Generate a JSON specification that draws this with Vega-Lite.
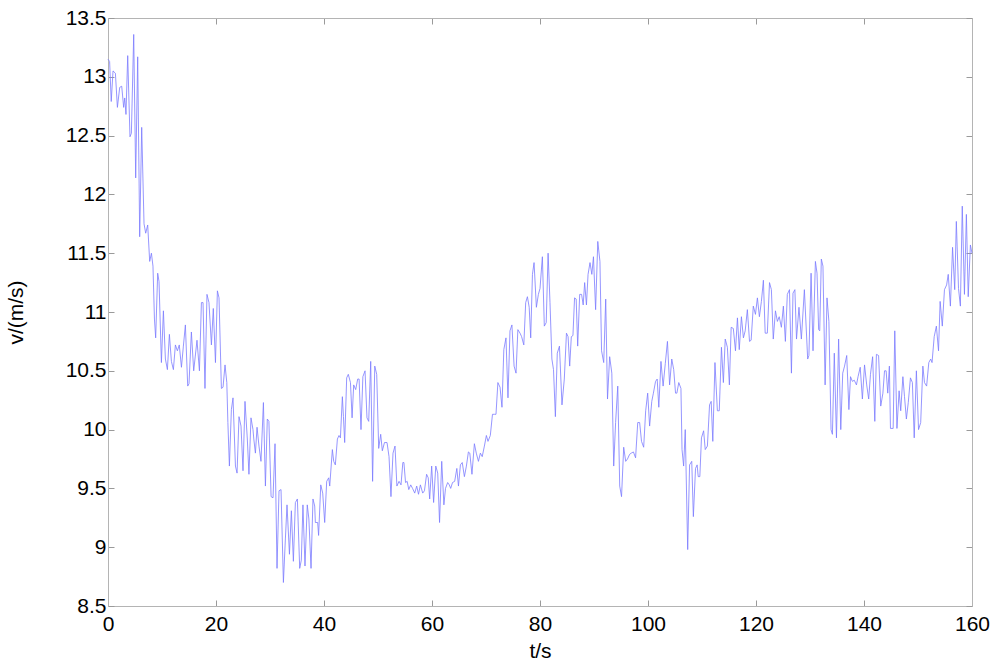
{
  "$schema": "https://vega.github.io/schema/vega-lite/v6.json",
  "width": 864,
  "height": 588,
  "autosize": {"type": "none"},
  "padding": {"left": 108, "top": 18, "right": 28, "bottom": 62},
  "background": "white",
  "config": {
    "view": {"stroke": null},
    "font": "Liberation Sans",
    "axis": {
      "grid": false,
      "domainColor": "#b4b4b4",
      "tickColor": "#9a9a9a",
      "tickSize": -6,
      "labelFont": "Liberation Sans",
      "labelFontSize": 21,
      "labelColor": "black",
      "titleFont": "Liberation Sans",
      "titleFontSize": 21,
      "titleFontWeight": "normal",
      "titleColor": "black"
    }
  },
  "data": {"values": [
    {"t":0,"v":13.15},{"t":0.3,"v":13.13},{"t":0.6,"v":12.79},{"t":0.93,"v":13.05},{"t":1.37,"v":13.03},{"t":1.74,"v":12.74},{"t":2.17,"v":12.91},{"t":2.54,"v":12.92},{"t":2.9,"v":12.74},{"t":3.1,"v":12.82},{"t":3.33,"v":12.68},{"t":3.65,"v":13.18},{"t":4.07,"v":12.49},{"t":4.33,"v":12.52},{"t":4.76,"v":13.36},{"t":5.13,"v":12.14},{"t":5.5,"v":13.17},{"t":5.87,"v":11.64},{"t":6.24,"v":12.57},{"t":6.67,"v":11.75},{"t":6.98,"v":11.67},{"t":7.35,"v":11.74},{"t":7.72,"v":11.43},{"t":8.04,"v":11.5},{"t":8.33,"v":11.39},{"t":8.6,"v":10.94},{"t":8.83,"v":10.78},{"t":9.2,"v":11.33},{"t":9.45,"v":11.26},{"t":9.89,"v":10.57},
    {"t":10.26,"v":11.01},{"t":10.63,"v":10.6},{"t":11.0,"v":10.51},{"t":11.37,"v":10.81},{"t":11.74,"v":10.58},{"t":12.11,"v":10.51},{"t":12.48,"v":10.72},{"t":12.85,"v":10.67},{"t":13.2,"v":10.72},{"t":13.6,"v":10.53},{"t":13.96,"v":10.71},{"t":14.33,"v":10.89},{"t":14.76,"v":10.37},{"t":15.0,"v":10.39},{"t":15.44,"v":10.83},{"t":15.87,"v":10.5},{"t":16.48,"v":10.76},{"t":16.93,"v":10.5},{"t":17.3,"v":11.08},{"t":17.6,"v":11.08},{"t":17.96,"v":10.35},{"t":18.33,"v":11.15},{"t":18.7,"v":11.08},{"t":19.15,"v":10.72},{"t":19.5,"v":11.03},{"t":19.9,"v":10.57},{"t":20.26,"v":11.18},{"t":20.56,"v":11.12},{"t":21.0,"v":10.35},{"t":21.3,"v":10.36},{"t":21.67,"v":10.55},{"t":22.0,"v":10.4},{"t":22.2,"v":10.06},{"t":22.48,"v":9.69},{"t":22.85,"v":10.17},{"t":23.15,"v":10.27},{"t":23.6,"v":9.69},{"t":23.9,"v":9.63},{"t":24.26,"v":10.11},{"t":24.63,"v":10.03},{"t":25.0,"v":9.65},{"t":25.37,"v":10.24},{"t":25.8,"v":9.92},{"t":26.1,"v":9.62},{"t":26.48,"v":10.1},{"t":26.85,"v":10.0},{"t":27.0,"v":9.92},{"t":27.3,"v":9.8},{"t":27.6,"v":10.02},{"t":27.96,"v":9.86},{"t":28.33,"v":9.73},{"t":28.78,"v":10.23},{"t":29.15,"v":9.52},{"t":29.5,"v":10.09},{"t":29.8,"v":10.07},
    {"t":30.2,"v":9.43},{"t":30.56,"v":9.42},{"t":30.93,"v":9.88},{"t":31.3,"v":8.82},{"t":31.67,"v":9.48},{"t":32.04,"v":9.49},{"t":32.48,"v":8.7},{"t":32.85,"v":9.07},{"t":33.15,"v":9.36},{"t":33.6,"v":8.94},{"t":33.96,"v":9.31},{"t":34.33,"v":8.88},{"t":34.7,"v":9.38},{"t":35.07,"v":9.41},{"t":35.5,"v":8.82},{"t":35.8,"v":8.89},{"t":36.1,"v":9.36},{"t":36.48,"v":8.84},{"t":36.9,"v":9.36},{"t":37.2,"v":9.24},{"t":37.6,"v":8.82},{"t":37.96,"v":9.41},{"t":38.28,"v":9.35},{"t":38.4,"v":9.21},{"t":38.83,"v":9.21},{"t":39.0,"v":9.1},{"t":39.4,"v":9.53},{"t":39.76,"v":9.46},{"t":40.13,"v":9.21},{"t":40.5,"v":9.56},{"t":40.87,"v":9.59},{"t":41.06,"v":9.52},{"t":41.55,"v":9.83},{"t":41.8,"v":9.73},{"t":42.1,"v":9.7},{"t":42.48,"v":9.92},{"t":42.78,"v":9.95},{"t":43.04,"v":9.93},{"t":43.4,"v":10.28},{"t":43.6,"v":10.11},{"t":43.83,"v":9.89},{"t":44.2,"v":10.44},{"t":44.5,"v":10.47},{"t":44.9,"v":10.4},{"t":45.2,"v":10.1},{"t":45.5,"v":10.38},{"t":45.87,"v":10.34},{"t":46.24,"v":10.43},{"t":46.5,"v":10.43},{"t":46.85,"v":10.0},{"t":47.2,"v":10.45},{"t":47.6,"v":10.5},{"t":47.96,"v":10.1},{"t":48.28,"v":10.07},{"t":48.65,"v":10.58},{"t":49.0,"v":9.56},{"t":49.4,"v":10.54},{"t":49.76,"v":10.47},
    {"t":50.13,"v":9.84},{"t":50.5,"v":9.96},{"t":50.8,"v":9.82},{"t":51.2,"v":9.89},{"t":51.67,"v":9.89},{"t":52.04,"v":9.77},{"t":52.4,"v":9.43},{"t":52.78,"v":9.8},{"t":53.15,"v":9.86},{"t":53.5,"v":9.52},{"t":53.9,"v":9.56},{"t":54.26,"v":9.53},{"t":54.6,"v":9.72},{"t":54.8,"v":9.72},{"t":55.1,"v":9.55},{"t":55.4,"v":9.56},{"t":55.7,"v":9.49},{"t":56.06,"v":9.53},{"t":56.4,"v":9.5},{"t":56.8,"v":9.46},{"t":57.17,"v":9.52},{"t":57.5,"v":9.45},{"t":57.85,"v":9.53},{"t":58.28,"v":9.46},{"t":58.6,"v":9.48},{"t":59.0,"v":9.62},{"t":59.3,"v":9.59},{"t":59.57,"v":9.41},{"t":59.94,"v":9.69},{"t":60.3,"v":9.38},{"t":60.7,"v":9.69},{"t":61.06,"v":9.63},{"t":61.4,"v":9.21},{"t":61.8,"v":9.73},{"t":62.2,"v":9.36},{"t":62.5,"v":9.5},{"t":62.9,"v":9.55},{"t":63.2,"v":9.53},{"t":63.46,"v":9.5},{"t":63.8,"v":9.55},{"t":64.2,"v":9.56},{"t":64.6,"v":9.67},{"t":64.9,"v":9.52},{"t":65.26,"v":9.7},{"t":65.6,"v":9.72},{"t":66.0,"v":9.6},{"t":66.37,"v":9.69},{"t":66.74,"v":9.81},{"t":67.0,"v":9.8},{"t":67.4,"v":9.62},{"t":67.85,"v":9.88},{"t":68.2,"v":9.8},{"t":68.6,"v":9.73},{"t":68.96,"v":9.8},{"t":69.3,"v":9.77},{"t":69.7,"v":9.86},
    {"t":70.07,"v":9.95},{"t":70.37,"v":9.9},{"t":70.8,"v":9.95},{"t":71.2,"v":10.13},{"t":71.6,"v":10.13},{"t":71.85,"v":10.13},{"t":72.2,"v":10.4},{"t":72.6,"v":10.36},{"t":72.96,"v":10.19},{"t":73.3,"v":10.68},{"t":73.7,"v":10.78},{"t":74.07,"v":10.27},{"t":74.44,"v":10.84},{"t":74.8,"v":10.89},{"t":75.2,"v":10.54},{"t":75.56,"v":10.48},{"t":75.9,"v":10.85},{"t":76.3,"v":10.82},{"t":76.6,"v":10.79},{"t":77.0,"v":10.72},{"t":77.35,"v":11.08},{"t":77.67,"v":11.13},{"t":78.0,"v":11.04},{"t":78.28,"v":10.78},{"t":78.6,"v":11.32},{"t":78.9,"v":11.42},{"t":79.33,"v":11.04},{"t":79.7,"v":11.15},{"t":80.0,"v":11.2},{"t":80.44,"v":11.47},{"t":80.8,"v":10.88},{"t":81.15,"v":10.91},{"t":81.5,"v":11.5},{"t":81.85,"v":11.08},{"t":82.2,"v":10.6},{"t":82.5,"v":10.51},{"t":82.85,"v":10.11},{"t":83.2,"v":10.65},{"t":83.6,"v":10.71},{"t":84.07,"v":10.21},{"t":84.5,"v":10.43},{"t":84.9,"v":10.82},{"t":85.2,"v":10.79},{"t":85.5,"v":10.54},{"t":85.8,"v":10.79},{"t":86.1,"v":10.8},{"t":86.4,"v":11.12},{"t":86.7,"v":11.11},{"t":86.98,"v":10.71},{"t":87.35,"v":11.15},{"t":87.7,"v":11.15},{"t":88.0,"v":11.06},{"t":88.27,"v":11.25},{"t":88.6,"v":11.06},{"t":88.9,"v":11.32},{"t":89.26,"v":11.42},{"t":89.6,"v":11.32},{"t":89.9,"v":11.47},
    {"t":90.3,"v":11.02},{"t":90.7,"v":11.6},{"t":91.1,"v":11.43},{"t":91.4,"v":10.67},{"t":91.8,"v":10.57},{"t":92.17,"v":11.11},{"t":92.5,"v":10.26},{"t":92.9,"v":10.62},{"t":93.3,"v":10.48},{"t":93.65,"v":9.69},{"t":94.0,"v":10.06},{"t":94.4,"v":10.37},{"t":94.76,"v":9.52},{"t":95.1,"v":9.43},{"t":95.5,"v":9.85},{"t":95.87,"v":9.73},{"t":96.2,"v":9.75},{"t":96.6,"v":9.79},{"t":96.9,"v":9.8},{"t":97.3,"v":9.81},{"t":97.7,"v":9.76},{"t":98.1,"v":10.06},{"t":98.45,"v":10.06},{"t":98.8,"v":9.9},{"t":99.2,"v":9.85},{"t":99.57,"v":10.16},{"t":99.94,"v":10.31},{"t":100.3,"v":10.03},{"t":100.7,"v":10.24},{"t":101.0,"v":10.31},{"t":101.4,"v":10.41},{"t":101.7,"v":10.43},{"t":102.0,"v":10.19},{"t":102.4,"v":10.58},{"t":102.8,"v":10.37},{"t":103.2,"v":10.56},{"t":103.6,"v":10.75},{"t":104.0,"v":10.38},{"t":104.4,"v":10.6},{"t":104.76,"v":10.51},{"t":105.1,"v":10.31},{"t":105.35,"v":10.31},{"t":105.7,"v":10.4},{"t":106.1,"v":10.35},{"t":106.3,"v":9.83},{"t":106.6,"v":9.69},{"t":106.9,"v":10.0},{"t":107.35,"v":8.98},{"t":107.7,"v":9.7},{"t":108.1,"v":9.73},{"t":108.4,"v":9.26},{"t":108.8,"v":9.67},{"t":109.1,"v":9.7},{"t":109.3,"v":9.6},{"t":109.6,"v":9.6},{"t":109.9,"v":9.93},
    {"t":110.3,"v":9.99},{"t":110.6,"v":9.83},{"t":111.0,"v":9.86},{"t":111.4,"v":10.21},{"t":111.7,"v":10.24},{"t":112.0,"v":9.9},{"t":112.4,"v":10.57},{"t":112.85,"v":10.16},{"t":113.2,"v":10.16},{"t":113.6,"v":10.7},{"t":113.96,"v":10.4},{"t":114.3,"v":10.77},{"t":114.7,"v":10.7},{"t":115.07,"v":10.38},{"t":115.4,"v":10.87},{"t":115.8,"v":10.86},{"t":116.2,"v":10.67},{"t":116.56,"v":10.95},{"t":116.9,"v":10.68},{"t":117.3,"v":10.96},{"t":117.67,"v":10.78},{"t":118.0,"v":10.84},{"t":118.4,"v":11.02},{"t":118.8,"v":10.75},{"t":119.1,"v":10.76},{"t":119.5,"v":11.05},{"t":119.9,"v":10.98},{"t":120.26,"v":11.12},{"t":120.63,"v":10.96},{"t":121.0,"v":11.09},{"t":121.37,"v":11.27},{"t":121.7,"v":10.82},{"t":122.1,"v":10.82},{"t":122.5,"v":11.25},{"t":122.85,"v":11.19},{"t":123.2,"v":10.77},{"t":123.6,"v":11.01},{"t":123.96,"v":10.92},{"t":124.3,"v":10.96},{"t":124.7,"v":10.87},{"t":125.07,"v":11.05},{"t":125.44,"v":10.75},{"t":125.8,"v":11.15},{"t":126.2,"v":11.19},{"t":126.56,"v":10.48},{"t":126.85,"v":11.16},{"t":127.2,"v":11.19},{"t":127.5,"v":10.77},{"t":127.96,"v":11.04},{"t":128.4,"v":10.77},{"t":128.96,"v":11.19},{"t":129.57,"v":10.6},{"t":129.8,"v":10.63},
    {"t":130.2,"v":11.33},{"t":130.56,"v":10.67},{"t":131.0,"v":11.43},{"t":131.3,"v":11.33},{"t":131.6,"v":10.85},{"t":131.8,"v":10.84},{"t":132.1,"v":11.45},{"t":132.4,"v":11.39},{"t":132.8,"v":10.38},{"t":133.15,"v":11.12},{"t":133.5,"v":10.92},{"t":133.9,"v":10.0},{"t":134.15,"v":9.96},{"t":134.5,"v":10.65},{"t":134.9,"v":9.93},{"t":135.3,"v":10.77},{"t":135.7,"v":10.0},{"t":136.06,"v":10.48},{"t":136.4,"v":10.54},{"t":136.8,"v":10.63},{"t":137.2,"v":10.17},{"t":137.5,"v":10.45},{"t":137.85,"v":10.41},{"t":138.2,"v":10.42},{"t":138.6,"v":10.38},{"t":138.9,"v":10.45},{"t":139.3,"v":10.53},{"t":139.7,"v":10.26},{"t":140.1,"v":10.55},{"t":140.5,"v":10.38},{"t":140.87,"v":10.26},{"t":141.2,"v":10.47},{"t":141.6,"v":10.62},{"t":142.0,"v":10.07},{"t":142.3,"v":10.64},{"t":142.7,"v":10.63},{"t":143.1,"v":10.2},{"t":143.5,"v":10.31},{"t":143.8,"v":10.5},{"t":144.1,"v":10.5},{"t":144.4,"v":10.31},{"t":144.7,"v":10.54},{"t":144.9,"v":10.01},{"t":145.4,"v":10.01},{"t":145.7,"v":10.84},{"t":146.1,"v":10.01},{"t":146.5,"v":10.33},{"t":146.8,"v":10.16},{"t":147.2,"v":10.45},{"t":147.5,"v":10.28},{"t":147.85,"v":10.09},{"t":148.2,"v":10.23},{"t":148.6,"v":10.44},{"t":148.96,"v":10.4},{"t":149.3,"v":9.93},{"t":149.7,"v":10.5},
    {"t":150.1,"v":10.0},{"t":150.5,"v":10.06},{"t":150.9,"v":10.54},{"t":151.2,"v":10.4},{"t":151.6,"v":10.37},{"t":152.0,"v":10.57},{"t":152.35,"v":10.6},{"t":152.6,"v":10.57},{"t":153.0,"v":10.79},{"t":153.4,"v":10.88},{"t":153.8,"v":10.67},{"t":154.1,"v":11.09},{"t":154.5,"v":10.88},{"t":154.9,"v":11.19},{"t":155.3,"v":11.23},{"t":155.6,"v":11.32},{"t":156.0,"v":11.05},{"t":156.4,"v":11.55},{"t":156.8,"v":11.19},{"t":157.1,"v":11.77},{"t":157.5,"v":11.2},{"t":157.85,"v":11.05},{"t":158.2,"v":11.9},{"t":158.6,"v":11.15},{"t":158.96,"v":11.83},{"t":159.3,"v":11.13},{"t":159.7,"v":11.57},{"t":160,"v":11.5}
  ]},
  "layer": [
    {
      "mark": {"type": "line", "color": "#7b7bff", "strokeWidth": 0.8, "interpolate": "linear"},
      "encoding": {
        "x": {"field": "t", "type": "quantitative", "scale": {"domain": [0, 160], "nice": false, "zero": false},
          "axis": {"orient": "bottom", "title": "t/s", "values": [0,20,40,60,80,100,120,140,160], "labelPadding": 13, "titlePadding": 6, "labelFlush": false}},
        "y": {"field": "v", "type": "quantitative", "scale": {"domain": [8.5, 13.5], "nice": false, "zero": false},
          "axis": {"orient": "left", "title": "v/(m/s)", "values": [8.5,9,9.5,10,10.5,11,11.5,12,12.5,13,13.5], "format": ".3~g", "labelPadding": 8, "titlePadding": 39, "labelFlush": false}}
      }
    },
    {
      "mark": {"type": "line", "strokeOpacity": 0},
      "encoding": {
        "x": {"field": "t", "type": "quantitative", "scale": {"domain": [0, 160], "nice": false, "zero": false},
          "axis": {"orient": "top", "title": null, "labels": false, "values": [0,20,40,60,80,100,120,140,160]}},
        "y": {"field": "v", "type": "quantitative", "scale": {"domain": [8.5, 13.5], "nice": false, "zero": false},
          "axis": {"orient": "right", "title": null, "labels": false, "values": [8.5,9,9.5,10,10.5,11,11.5,12,12.5,13,13.5]}}
      }
    }
  ],
  "resolve": {"axis": {"x": "independent", "y": "independent"}}
}
